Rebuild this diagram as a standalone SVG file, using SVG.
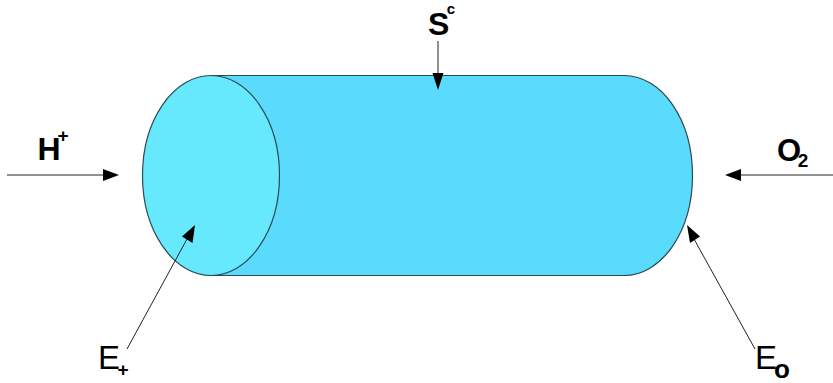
<svg xmlns="http://www.w3.org/2000/svg" width="833" height="383" viewBox="0 0 833 383">
<style>
.shape{stroke:#2a4a55;stroke-width:1.2}
.conn{stroke:#222;stroke-width:1;fill:none}
.head{fill:#000}
text{font-family:"Liberation Sans",Arial,sans-serif;fill:#000}
.b{font-weight:bold;font-size:32px}
.r{font-size:33px}
.s{font-weight:bold;font-size:19px}
</style>
<rect width="833" height="383" fill="#fff"/>
<g id="cylinder">
<path class="shape" fill="#5adafd" d="M211 75.500H624C662 75.500 692.500 120 692.500 175.500C692.500 231 662 275.500 624 275.500H211Z"/>
</g>
<g id="cap">
<ellipse class="shape" fill="#66e9fc" cx="211" cy="175.500" rx="68.500" ry="100"/>
</g>
<g id="connectors">
<path class="conn" d="M7 175H106"/>
<polygon class="head" points="119,175 103,169 103,181"/>
<path class="conn" d="M438 41V76"/>
<polygon class="head" points="438,90 432.500,73 443.500,73"/>
<path class="conn" d="M833 175H738"/>
<polygon class="head" points="725,175 741,169 741,181"/>
<path class="conn" d="M127 349L187 239"/>
<polygon class="head" points="195,225 192.500,243 182,236.500"/>
<path class="conn" d="M755 349L694 239"/>
<polygon class="head" points="687,225 700,236.500 690,243"/>
</g>
<g id="label-h"><text class="b" x="37.500" y="160">H<tspan class="s" dx="-3" dy="-18">+</tspan></text></g>
<g id="label-s"><text class="b" x="428" y="35">S<tspan class="s" dx="-2.500" dy="-21" style="font-size:15px">c</tspan></text></g>
<g id="label-o"><text class="b" x="777" y="161" style="font-size:31px">O<tspan class="s" dx="-3.500" dy="6">2</tspan></text></g>
<g id="label-eplus"><text class="r" x="98" y="369">E<tspan class="s" dx="-2.500" dy="7">+</tspan></text></g>
<g id="label-eo"><text class="r" x="755" y="369">E<tspan class="s" dx="-3" dy="9" style="font-size:26px">o</tspan></text></g>
</svg>
